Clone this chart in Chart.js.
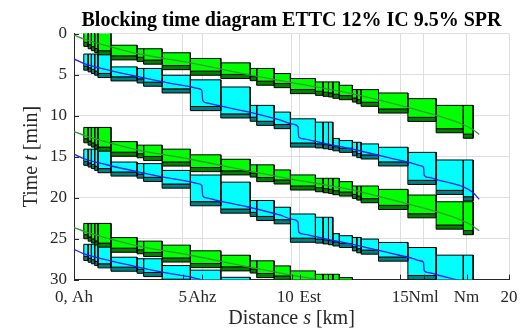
<!DOCTYPE html>
<html>
<head>
<meta charset="utf-8">
<script src="https://cdn.jsdelivr.net/npm/chart.js@4.4.1/dist/chart.umd.min.js"></script>
<style>
  html, body { margin: 0; padding: 0; background: #fff; }
  #wrap { width: 527px; height: 330px; }
</style>
</head>
<body>
<div id="wrap"><canvas id="myChart"></canvas></div>
<script>
// axis ticks (km / min)
const xTickValues = [0, 5, 5.9, 10, 10.38, 15, 16.07, 18.05, 20];
const xTickLabels = ['0, Ah', '5', 'Ahz', '10   ', '     Est', '15', 'Nml', 'Nm', '20'];
const yTickValues = [0, 5, 10, 15, 20, 25, 30];

// block section boundaries [km]
const blockEdges = [0.45, 0.65, 0.8, 0.95, 1.1, 1.7, 2.9, 3.2, 4.05, 5.35, 6.75, 8.1, 8.4, 9.2,
  9.95, 11.1, 11.45, 11.7, 11.9, 12.2, 12.8, 13.0, 13.2, 14.0, 15.35, 16.65, 17.9, 18.35];

// green train: blocking time start / end per section, relative to departure [min]
const ettcBlockStart = [-0.5, -0.5, -0.5, -0.5, -0.5, 1.23, 1.66, 1.66, 2.15, 2.84, 3.38, 4.06, 4.06, 4.68,
  5.29, 5.7, 5.7, 5.7, 5.7, 6.11, 6.64, 6.64, 6.64, 7.05, 7.74, 8.56, 8.56];
const ettcBlockEnd = [1.37, 1.66, 1.9, 2.13, 2.4, 3.02, 3.2, 3.54, 4.21, 4.89, 5.29, 5.55, 6.11, 6.4,
  7.13, 7.34, 7.46, 7.54, 7.7, 7.87, 8.16, 8.36, 8.68, 9.5, 10.52, 11.9, 12.57];
// green running line
const ettcPathS = [0, 0.5, 1.66, 3, 5.3, 8, 10, 12.26, 14, 15.6, 17, 17.8, 18.3, 18.63];
const ettcPathT = [0, 0.5, 1.4, 2.3, 3.35, 4.8, 5.8, 6.85, 7.9, 9.0, 10.05, 10.8, 11.45, 12.1];
const ettcDepartures = [0.2, 11.95, 23.65];

// blue train (stops at Ahz, Est, Nml)
const sprBlockStart = [-0.6, -0.6, -0.6, -0.6, -0.6, 0.97, 1.16, 1.16, 1.99, 2.55, 3.42, 5.66, 5.66, 6.48,
  7.3, 7.7, 7.7, 7.7, 9.7, 9.95, 10.16, 10.16, 10.36, 10.77, 11.39, 12.32, 12.32];
const sprBlockEnd = [1.37, 1.58, 1.77, 1.99, 2.27, 2.68, 2.93, 3.33, 4.15, 6.3, 7.2, 7.6, 8.1, 8.5,
  10.75, 10.85, 10.95, 11.05, 11.2, 11.39, 11.8, 12.03, 12.2, 13.05, 15.3, 16.52, 17.3];
const sprPathS = [0, 0.5, 1.5, 3.0, 4.5, 5.3, 5.7, 5.88, 5.92, 6.1, 6.5, 8.0, 9.5, 10.05, 10.3, 10.33,
  10.55, 11.0, 12.7, 14.5, 15.6, 15.9, 16.07, 16.1, 16.3, 16.8, 17.9, 18.3, 18.63];
const sprPathT = [0, 0.6, 1.3, 2.2, 3.0, 3.35, 3.6, 3.85, 5.1, 5.35, 5.6, 6.45, 7.45, 7.95, 8.25, 9.5,
  9.75, 10.0, 10.95, 12.05, 12.75, 13.0, 13.2, 14.2, 14.45, 14.8, 15.6, 16.2, 17.1];
const sprDepartures = [3.1, 14.7, 26.3];

const releaseTime = 0.5; // dark strip at the bottom of each block

const serif = "'Liberation Serif', 'Times New Roman', serif";
const axisColor = '#262626';

function rectData(s0, s1, t0, t1) {
    return [{x: s0, y: t0}, {x: s1, y: t0}, {x: s1, y: t1}, {x: s0, y: t1}, {x: s0, y: t0}];
}

function rectSet(points, fillColor) {
    return {
        type: 'line', data: points, fill: 'shape', backgroundColor: fillColor,
        borderColor: '#000', borderWidth: 1, pointRadius: 0, tension: 0, order: 2
    };
}

function trainDatasets(departures, starts, ends, pathS, pathT, light, dark, lineColor) {
    const sets = [];
    departures.forEach(d => {
        for (let i = 0; i < starts.length; i++) {
            const s0 = blockEdges[i], s1 = blockEdges[i + 1];
            sets.push(rectSet(rectData(s0, s1, d + starts[i], d + ends[i] - releaseTime), light));
            sets.push(rectSet(rectData(s0, s1, d + ends[i] - releaseTime, d + ends[i]), dark));
        }
        sets.push({
            type: 'line',
            data: pathS.map((s, i) => ({x: s, y: d + pathT[i]})),
            borderColor: lineColor, borderWidth: 1.3, pointRadius: 0, fill: false,
            cubicInterpolationMode: 'monotone', order: 0
        });
    });
    return sets;
}

function drawMixed(ctx, parts, cx, cy, rot) {
    ctx.save();
    ctx.translate(cx, cy);
    ctx.rotate(rot);
    ctx.textBaseline = 'middle';
    ctx.textAlign = 'left';
    let total = 0;
    parts.forEach(p => { ctx.font = (p[1] ? 'italic ' : '') + '20px ' + serif; total += ctx.measureText(p[0]).width; });
    let x = -total / 2;
    parts.forEach(p => {
        ctx.font = (p[1] ? 'italic ' : '') + '20px ' + serif;
        ctx.fillStyle = axisColor;
        ctx.fillText(p[0], x, 0);
        x += ctx.measureText(p[0]).width;
    });
    ctx.restore();
}

// ticks inside the axes + axis titles with italic variable
const axisExtras = {
    id: 'axisExtras',
    afterDraw(chart) {
        const {ctx, chartArea: a, scales: {x, y}} = chart;
        ctx.save();
        ctx.strokeStyle = axisColor;
        ctx.lineWidth = 1;
        ctx.beginPath();
        yTickValues.forEach(v => {
            const py = Math.round(y.getPixelForValue(v)) + 0.5;
            ctx.moveTo(a.left, py); ctx.lineTo(a.left + 5, py);
        });
        xTickValues.forEach(v => {
            const px = Math.round(x.getPixelForValue(v)) + 0.5;
            ctx.moveTo(px, a.bottom); ctx.lineTo(px, a.bottom - 5);
        });
        ctx.stroke();
        ctx.restore();
        drawMixed(ctx, [['Distance ', false], ['s', true], [' [km]', false]], (a.left + a.right) / 2, 319, 0);
        drawMixed(ctx, [['Time ', false], ['t', true], [' [min]', false]], 32, (a.top + a.bottom) / 2, -Math.PI / 2);
    }
};

const datasets = [
    ...trainDatasets(ettcDepartures, ettcBlockStart, ettcBlockEnd, ettcPathS, ettcPathT, '#00ff00', '#008000', '#2f9e2f'),
    ...trainDatasets(sprDepartures, sprBlockStart, sprBlockEnd, sprPathS, sprPathT, '#00ffff', '#008080', '#1f1fff')
];

new Chart(document.getElementById('myChart'), {
    type: 'line',
    data: { datasets },
    options: {
        animation: false,
        responsive: true,
        maintainAspectRatio: false,
        events: [],
        layout: { padding: { left: 0, right: 18, top: 0, bottom: 0 } },
        plugins: {
            legend: { display: false },
            tooltip: { enabled: false },
            title: {
                display: true,
                text: 'Blocking time diagram ETTC 12% IC 9.5% SPR',
                fullSize: false,
                color: '#000',
                font: { family: serif, size: 20, weight: 'bold', lineHeight: 1.2 },
                padding: { top: 9, bottom: 0.5 }
            }
        },
        scales: {
            x: {
                type: 'linear', min: 0, max: 20,
                afterBuildTicks: scale => { scale.ticks = xTickValues.map(v => ({ value: v })); },
                ticks: {
                    autoSkip: false, maxRotation: 0, minRotation: 0, padding: 7.5,
                    color: axisColor, font: { family: serif, size: 17 },
                    callback: (v, i) => xTickLabels[i]
                },
                grid: { color: '#dedede', drawTicks: false },
                border: { color: axisColor, width: 1 },
                title: {
                    display: true, text: 'Distance s [km]', color: 'rgba(0,0,0,0)',
                    font: { family: serif, size: 20, lineHeight: 0.75 }, padding: { top: 0, bottom: 0 }
                }
            },
            y: {
                type: 'linear', min: 0, max: 30, reverse: true,
                afterBuildTicks: scale => { scale.ticks = yTickValues.map(v => ({ value: v })); },
                ticks: { padding: 7, color: axisColor, font: { family: serif, size: 17 } },
                grid: { color: '#dedede', drawTicks: false },
                border: { color: axisColor, width: 1 },
                title: {
                    display: true, text: 'Time t [min]', color: 'rgba(0,0,0,0)',
                    font: { family: serif, size: 20, lineHeight: 1.1 }, padding: { top: 21, bottom: 0 }
                }
            }
        }
    },
    plugins: [axisExtras]
});
</script>
</body>
</html>
